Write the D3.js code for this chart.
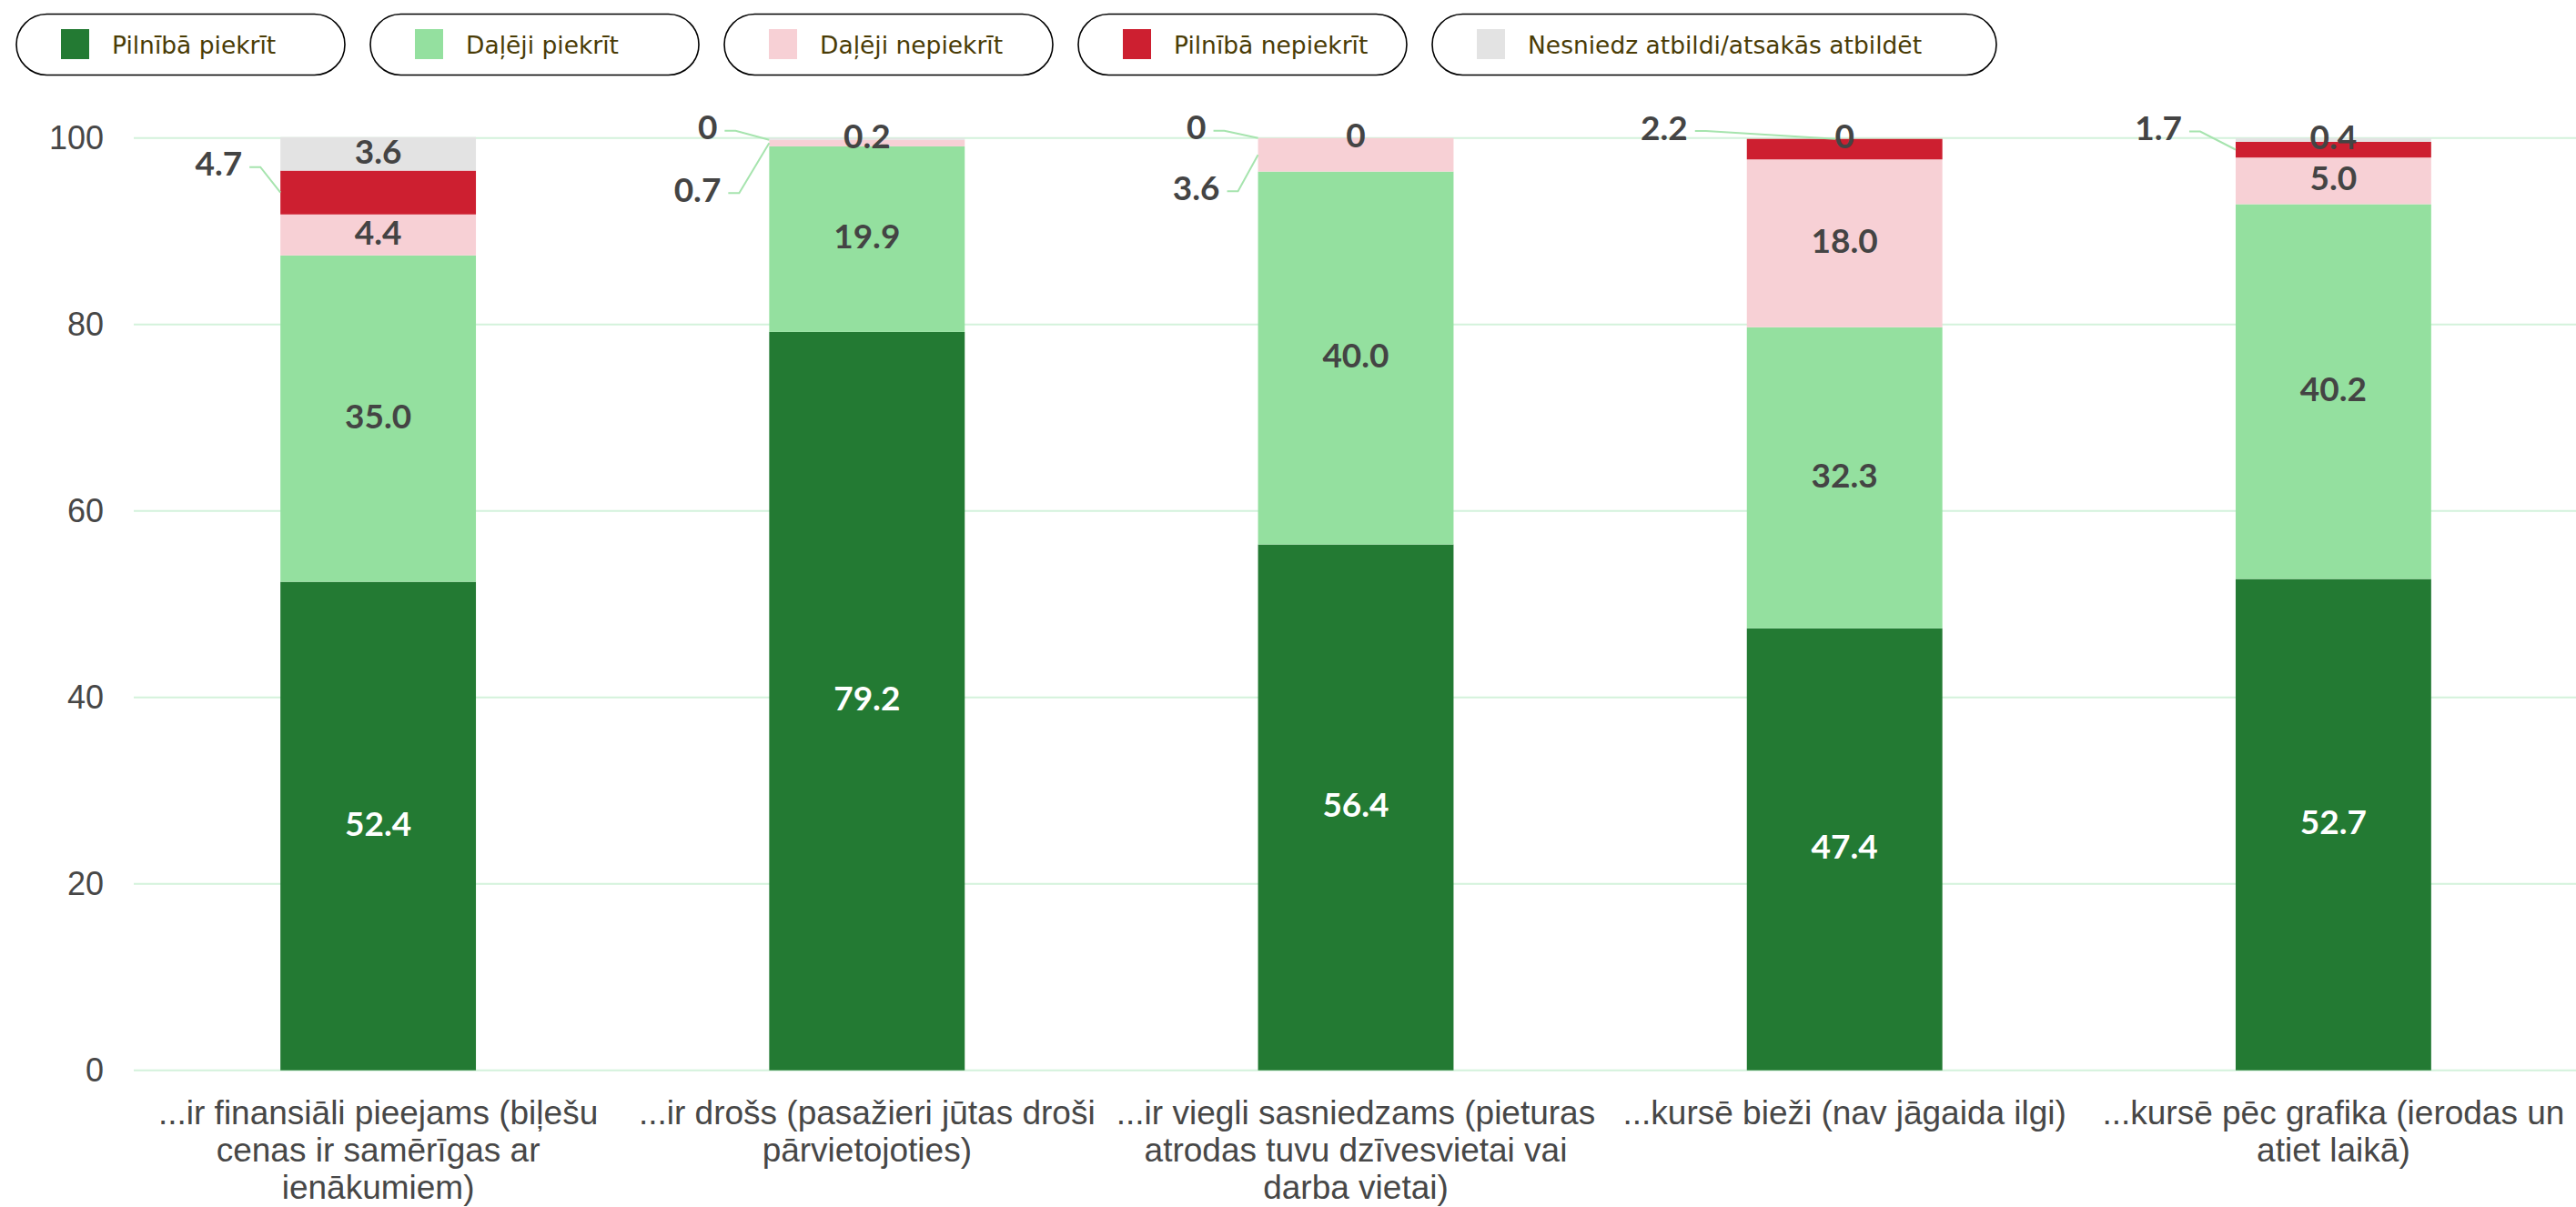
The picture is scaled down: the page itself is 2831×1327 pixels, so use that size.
<!DOCTYPE html>
<html>
<head>
<meta charset="utf-8">
<script src="https://cdn.jsdelivr.net/npm/d3@7"></script>
<style>
  html, body { margin: 0; padding: 0; background: #fff; }
  svg { display: block; }
</style>
</head>
<body>
<div id="chart"></div>
<script>
// categories and values
var categories = [
    "...ir finansiāli pieejams (biļešu cenas ir samērīgas ar ienākumiem)",
    "...ir drošs (pasažieri jūtas droši pārvietojoties)",
    "...ir viegli sasniedzams (pieturas atrodas tuvu dzīvesvietai vai darba vietai)",
    "...kursē bieži (nav jāgaida ilgi)",
    "...kursē pēc grafika (ierodas un atiet laikā)"
];
var seriesNames = ["Pilnībā piekrīt", "Daļēji piekrīt", "Daļēji nepiekrīt", "Pilnībā nepiekrīt", "Nesniedz atbildi/atsakās atbildēt"];
var pilnibaPiekrit = [52.4, 79.2, 56.4, 47.4, 52.7];
var dalejiPiekrit = [35.0, 19.9, 40.0, 32.3, 40.2];
var dalejiNepiekrit = [4.4, 0.7, 3.6, 18.0, 5.0];
var pilnibaNepiekrit = [4.7, 0, 0, 2.2, 1.7];
var nesniedz = [3.6, 0.2, 0, 0, 0.4];
var yTicks = [0, 20, 40, 60, 80, 100];

var colors = ["#237a33", "#94e09f", "#f7d0d5", "#cd1f30", "#e3e3e3"];
var pillWidths = [361, 361, 361, 361, 620];

// labels moved out to the left of the bar: [category, series, dx from bar edge, dy from segment middle, leader to top?]
var outside = [
    [0, 3, -42, -30, false],
    [1, 3, -57, -12, false],
    [1, 2, -53, 53, false],
    [2, 3, -57, -10, false],
    [2, 2, -42, 38, false],
    [3, 3, -65, -22, true],
    [4, 3, -59, -22, false]
];

var width = 2831, height = 1327;
var svg = d3.select("#chart").append("svg")
    .attr("width", width)
    .attr("height", height);

var keys = seriesNames;
var table = categories.map(function (c, i) {
    var row = { cat: c, i: i };
    row[keys[0]] = pilnibaPiekrit[i];
    row[keys[1]] = dalejiPiekrit[i];
    row[keys[2]] = dalejiNepiekrit[i];
    row[keys[3]] = pilnibaNepiekrit[i];
    row[keys[4]] = nesniedz[i];
    return row;
});
var stacked = d3.stack().keys(keys)(table);

var x = d3.scaleBand()
    .domain(categories)
    .range([147, 2833])
    .paddingInner(0.6)
    .paddingOuter(0.3);
var y = d3.scaleLinear()
    .domain([0, 100])
    .range([1176.7, 151.7]);

// grid lines
svg.append("g")
    .selectAll("line")
    .data(yTicks)
    .enter().append("line")
    .attr("x1", 147).attr("x2", 2831)
    .attr("y1", function (d) { return y(d); })
    .attr("y2", function (d) { return y(d); })
    .attr("stroke", "#d3f2db")
    .attr("stroke-width", 2);

// y axis
var yAxis = svg.append("g")
    .attr("transform", "translate(147,0)")
    .call(d3.axisLeft(y).tickValues(yTicks).tickSize(0).tickPadding(33));
yAxis.select(".domain").remove();
yAxis.attr("font-family", "Liberation Sans").attr("font-size", 36);
yAxis.selectAll("text")
    .attr("fill", "#474747");

// bars
svg.append("g")
    .selectAll("g")
    .data(stacked)
    .enter().append("g")
    .attr("fill", function (d, i) { return colors[i]; })
    .selectAll("rect")
    .data(function (d) { return d; })
    .enter().append("rect")
    .attr("x", function (d) { return x(d.data.cat); })
    .attr("y", function (d) { return y(d[1]); })
    .attr("width", x.bandwidth())
    .attr("height", function (d) { return Math.max(0, y(d[0]) - y(d[1])); });

// value labels
var isOutside = function (ci, si) {
    return outside.find(function (o) { return o[0] == ci && o[1] == si; });
};
var labels = svg.append("g")
    .attr("font-family", "Lato")
    .attr("font-weight", "bold")
    .attr("font-size", 37);

stacked.forEach(function (s, si) {
    s.forEach(function (d, ci) {
        var v = d.data[s.key];
        var mid = y((d[0] + d[1]) / 2);
        var txt = v == 0 ? "0" : v.toFixed(1);
        var o = isOutside(ci, si);
        if (o) {
            var left = x(d.data.cat);
            var ly = mid + o[3];
            var tx = left + o[2];
            labels.append("text")
                .attr("x", tx).attr("y", ly - 3)
                .attr("text-anchor", "end")
                .attr("dominant-baseline", "central")
                .attr("fill", "#444")
                .text(txt);
            var ex = left, ey = mid;
            if (o[4]) { ex = left + x.bandwidth() / 2 - 10; ey = y(d[1]); }
            svg.append("path")
                .attr("d", "M" + (tx + 8) + "," + (ly + 2) + "L" + (tx + 20) + "," + (ly + 2) + "L" + ex + "," + ey)
                .attr("fill", "none")
                .attr("stroke", "#a6e4ae")
                .attr("stroke-width", 2);
        } else {
            labels.append("text")
                .attr("x", x(d.data.cat) + x.bandwidth() / 2)
                .attr("y", mid - 4)
                .attr("text-anchor", "middle")
                .attr("dominant-baseline", "central")
                .attr("fill", si == 0 ? "#fff" : "#444")
                .text(txt);
        }
    });
});

// category labels
function wrap(text, w) {
    text.each(function () {
        var t = d3.select(this);
        var words = t.text().split(/\s+/);
        var cx = t.attr("x");
        t.text(null);
        var line = [];
        var ts = t.append("tspan").attr("x", cx).attr("dy", 0);
        words.forEach(function (wd) {
            line.push(wd);
            ts.text(line.join(" "));
            if (ts.node().getComputedTextLength() > w && line.length > 1) {
                line.pop();
                ts.text(line.join(" "));
                line = [wd];
                ts = t.append("tspan").attr("x", cx).attr("dy", 41).text(wd);
            }
        });
    });
}
svg.append("g")
    .attr("font-family", "Liberation Sans")
    .attr("font-size", 37)
    .selectAll("text")
    .data(categories)
    .enter().append("text")
    .attr("x", function (d) { return x(d) + x.bandwidth() / 2; })
    .attr("y", 1236)
    .attr("text-anchor", "middle")
    .attr("fill", "#474747")
    .text(function (d) { return d; })
    .call(wrap, 548);

// legend
var lx = 18;
var legend = svg.append("g")
    .attr("font-family", "DejaVu Sans")
    .attr("font-size", 26.5);
seriesNames.forEach(function (name, i) {
    var g = legend.append("g");
    var pw = pillWidths[i];
    g.append("rect")
        .attr("x", lx).attr("y", 15.5)
        .attr("width", pw).attr("height", 67)
        .attr("rx", 33.5)
        .attr("fill", "#fff")
        .attr("stroke", "#000")
        .attr("stroke-width", 1.6);
    g.append("rect")
        .attr("x", lx + 49).attr("y", 32)
        .attr("width", 31).attr("height", 33)
        .attr("fill", colors[i]);
    g.append("text")
        .attr("x", lx + 105)
        .attr("y", 49)
        .attr("dominant-baseline", "central")
        .attr("fill", "#4a3c06")
        .text(name);
    lx += pw + 28;
});
</script>
</body>
</html>
